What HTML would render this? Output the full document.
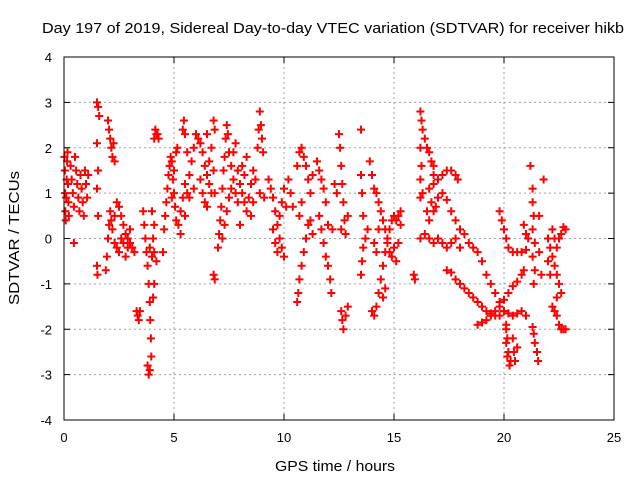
<!DOCTYPE html>
<html><head><meta charset="utf-8"><style>
body{margin:0;background:#fff;}
svg text{font-family:"Liberation Sans",sans-serif;fill:#000;}
</style></head><body>
<svg id="chart" width="640" height="480" xmlns="http://www.w3.org/2000/svg">
<rect width="640" height="480" fill="#fff"/>
<text x="42" y="33" font-size="15" textLength="582" lengthAdjust="spacingAndGlyphs">Day 197 of 2019, Sidereal Day-to-day VTEC variation (SDTVAR) for receiver hikb</text>
<g id="grid"></g>
<g id="ticks"></g>
<g id="marks"></g>
<rect x="64" y="57" width="550" height="363" fill="none" stroke="#000" stroke-width="1"/>
<text x="335" y="471" font-size="15" text-anchor="middle" textLength="120" lengthAdjust="spacingAndGlyphs">GPS time / hours</text>
<text x="0" y="0" font-size="15" text-anchor="middle" textLength="134" lengthAdjust="spacingAndGlyphs" transform="translate(19,238) rotate(-90)">SDTVAR / TECUs</text>
</svg>
<script>
const xTicks=[0,5,10,15,20,25];
const yTicks=[-4,-3,-2,-1,0,1,2,3,4];
const track1=[[0.02,1.8],[0.04,1.5],[0.05,1.0],[0.06,0.6],[0.08,0.4],[0.1,0.9],[0.12,1.3],[0.14,1.7],[0.16,1.9],[0.18,1.2],[0.2,0.8],[0.22,0.5]];
const track2=[[0.3,1.6],[0.35,1.3],[0.4,1.0],[0.45,0.7],[0.5,1.8],[0.55,1.5],[0.6,1.2],[0.65,0.9],[0.7,0.6],[0.75,1.4],[0.8,1.1],[0.85,0.8],[0.9,0.5],[0.95,1.5],[1.0,1.2],[1.05,0.9],[1.1,1.4],[0.45,-0.1]];
const track3=[[1.5,3.0],[1.55,2.9],[1.6,2.7],[1.5,2.1],[1.55,1.5],[1.5,1.1],[1.55,0.5],[1.5,-0.6],[1.52,-0.8]];
const track4=[[2.0,2.6],[2.05,2.4],[2.1,2.2],[2.15,2.0],[2.2,1.8],[2.25,2.1],[2.3,1.7]];
const track5=[[1.9,-0.7],[1.95,-0.4],[2.0,0.0],[2.05,0.3],[2.1,0.6],[2.15,0.4],[2.2,0.2],[2.3,0.5],[2.4,0.8],[2.5,0.7],[2.6,0.5],[2.7,0.3],[2.8,0.1],[2.9,0.0],[3.0,-0.1],[3.1,-0.2],[3.2,-0.3],[2.3,-0.1],[2.4,-0.2],[2.5,-0.3],[2.6,0.0],[2.7,-0.1],[2.8,-0.4],[2.9,-0.2],[3.0,0.2]];
const track6=[[3.3,-1.6],[3.35,-1.7],[3.4,-1.8],[3.45,-1.6]];
const track7=[[3.6,0.6],[3.65,0.3],[3.7,0.0],[3.75,-0.3],[3.8,-0.6],[3.85,-1.0],[3.9,-1.4],[3.92,-1.8],[3.95,-2.2],[3.97,-2.6],[3.8,-2.8],[3.85,-3.0],[3.9,-2.9],[3.9,-0.2],[4.0,-0.4],[4.05,0.0],[4.1,0.3],[4.0,0.6],[4.1,-0.3],[4.2,-0.5],[4.1,-1.0],[4.05,-1.3]];
const track8=[[4.1,2.2],[4.15,2.4],[4.2,2.3],[4.25,2.3],[4.3,2.2]];
const track9=[[4.5,-0.3],[4.55,0.2],[4.6,0.5],[4.65,0.8],[4.7,1.1],[4.75,1.4],[4.8,1.6],[4.85,1.8],[4.9,1.7],[4.95,1.3],[5.0,1.0],[5.05,0.7],[5.1,0.4],[4.9,0.9],[5.0,1.5],[5.1,1.9],[5.15,2.0]];
const track10=[[5.2,0.3],[5.3,0.6],[5.4,0.9],[5.5,1.2],[5.6,1.0],[5.7,1.4],[5.8,1.7],[5.9,2.0],[6.0,2.3],[5.4,2.4],[5.45,2.6],[5.5,2.3],[5.6,1.9],[5.3,0.1],[5.5,0.5],[5.7,0.9],[5.9,1.1]];
const track11=[[6.1,2.2],[6.2,2.1],[6.3,1.9],[6.4,1.6],[6.5,1.4],[6.6,1.2],[6.7,1.0],[6.2,1.3],[6.3,1.0],[6.4,0.8],[6.5,0.7],[6.6,1.7],[6.7,2.0],[6.5,2.3]];
const track12=[[6.8,2.6],[6.85,2.4],[6.8,1.5],[6.85,1.0],[6.8,-0.8],[6.85,-0.9]];
const track13=[[7.0,-0.2],[7.05,0.1],[7.1,0.4],[7.15,0.7],[7.2,1.1],[7.25,1.5],[7.3,1.8],[7.35,2.2],[7.4,2.5],[7.45,2.3],[7.5,1.9],[7.6,1.6],[7.7,1.3],[7.8,1.0],[7.9,0.8],[7.2,0.0],[7.3,0.3],[7.4,0.6],[7.5,0.9],[7.6,1.1],[7.7,1.9],[7.8,2.1],[7.9,1.5]];
const track14=[[8.0,1.2],[8.1,1.0],[8.2,0.8],[8.3,0.6],[8.4,0.9],[8.5,1.2],[8.6,1.5],[8.7,1.3],[8.8,2.0],[8.85,2.4],[8.9,2.8],[8.95,2.5],[9.0,2.2],[9.05,1.9],[8.1,1.6],[8.2,1.4],[8.3,1.8],[8.0,0.3],[8.5,0.5],[8.6,0.8],[8.9,1.0],[9.1,0.9]];
const track15=[[9.3,1.3],[9.4,1.1],[9.5,0.9],[9.6,0.6],[9.7,0.3],[9.8,0.0],[9.9,-0.2],[10.0,-0.4],[9.5,0.2],[9.6,-0.1],[9.7,-0.3],[9.8,0.5],[9.9,0.8],[10.0,1.1],[10.1,0.7],[10.2,1.3],[10.3,1.0],[10.4,0.7]];
const track16=[[10.6,1.6],[10.7,1.9],[10.8,2.0],[10.9,1.8],[11.0,1.6],[11.1,1.3],[11.2,1.0],[11.3,1.4],[10.6,-1.4],[10.65,-1.2],[10.7,-0.9],[10.8,-0.6],[10.9,-0.3],[11.0,0.0],[11.1,0.3],[10.7,0.5],[10.8,0.8],[11.2,0.4],[11.3,0.1]];
const track17=[[11.5,1.7],[11.6,1.5],[11.7,1.3],[11.8,1.1],[11.6,0.5],[11.7,0.2],[11.8,-0.1],[11.9,-0.4],[12.0,-0.6],[12.1,-0.9],[12.15,-1.2],[12.0,0.3],[12.2,0.2],[11.9,0.8],[12.3,1.2],[12.4,1.0]];
const track18=[[12.5,2.3],[12.55,2.0],[12.6,1.6],[12.65,1.2],[12.7,0.8],[12.75,0.4],[12.6,0.2],[12.8,0.1],[12.6,-1.6],[12.65,-1.8],[12.7,-2.0],[12.8,-1.7],[12.9,-1.5],[12.9,0.5]];
const track19=[[13.5,2.4],[13.5,1.4],[13.55,1.0],[13.6,0.5],[13.5,-0.8],[13.55,-0.5],[13.6,-0.2],[13.7,0.0],[13.8,0.2],[13.9,1.7],[14.0,1.4],[14.1,1.1]];
const track20=[[14.0,-1.6],[14.1,-1.7],[14.2,-1.5],[14.3,-1.2],[14.4,-0.9],[14.5,-0.6],[14.6,-0.3],[14.7,0.0],[14.8,0.2],[14.9,0.4],[15.0,0.5],[15.1,0.4],[15.2,0.5],[15.3,0.6],[14.2,1.0],[14.3,0.8],[14.4,0.6],[14.5,0.4],[14.6,0.2],[14.7,-0.1],[14.8,-0.3],[14.9,-0.4],[15.0,-0.2],[15.1,-0.5],[14.1,-0.1],[14.2,-0.3],[14.3,0.2],[14.5,-1.3],[14.6,-1.1],[15.2,-0.1],[15.3,0.3]];
const track21=[[15.9,-0.8],[15.95,-0.9]];
const track22=[[16.2,2.8],[16.25,2.6],[16.3,2.4],[16.4,2.2],[16.5,2.0],[16.6,1.9],[16.7,1.7],[16.8,1.6],[16.8,1.4],[16.2,2.0],[16.25,1.6],[16.2,1.3],[16.3,1.0],[16.2,0.9]];
const track23=[[16.6,1.1],[16.8,1.2],[17.0,1.3],[17.2,1.4],[17.4,1.5],[17.6,1.5],[17.8,1.4],[17.9,1.3],[16.5,0.6],[16.6,0.4],[16.7,0.8],[16.8,0.6]];
const track24=[[17.2,1.0],[17.4,0.85],[17.6,0.6],[17.8,0.4],[18.0,0.2],[18.2,0.1],[18.4,-0.1],[18.6,-0.2],[18.8,-0.3],[19.0,-0.5],[19.2,-0.8],[19.4,-1.0],[19.6,-1.2],[19.8,-1.4],[20.0,-1.6],[20.1,-1.9],[20.15,-2.2],[20.2,-2.5],[20.25,-2.8],[20.3,-2.7],[17.0,0.9],[16.9,0.7]];
const track25=[[16.2,0.0],[16.4,0.1],[16.6,0.0],[16.8,-0.1],[17.0,0.0],[17.2,-0.1],[17.4,-0.2],[17.6,-0.1],[17.8,0.0],[18.0,-0.2]];
const track26=[[17.4,-0.7],[17.6,-0.75],[17.8,-0.9],[18.0,-1.0],[18.2,-1.1],[18.4,-1.2],[18.6,-1.3],[18.8,-1.4],[19.0,-1.5],[19.2,-1.6],[19.4,-1.65],[19.6,-1.7],[19.8,-1.7],[20.0,-1.6],[20.2,-1.65],[20.4,-1.7],[20.6,-1.65],[20.8,-1.6],[21.0,-1.7]];
const track27=[[18.8,-1.9],[19.0,-1.85],[19.2,-1.8],[19.4,-1.7],[19.6,-1.6],[19.8,-1.5],[20.0,-1.35],[20.2,-1.2],[20.4,-1.05],[20.6,-0.95],[20.8,-0.8],[20.9,-0.7]];
const track28=[[19.8,0.6],[19.9,0.4],[20.0,0.2],[20.1,0.0],[20.2,-0.2],[20.4,-0.3],[20.6,-0.3],[20.8,-0.3],[21.0,-0.25]];
const track29=[[20.1,-2.0],[20.1,-2.3],[20.15,-2.6],[20.4,-2.2],[20.45,-2.5],[20.5,-2.7],[20.6,-2.4]];
const track30=[[21.2,1.6],[21.8,1.3],[21.3,1.1],[21.3,0.8],[21.35,0.5],[21.3,0.2],[21.4,-0.1],[21.3,-0.4],[21.4,-0.7],[21.35,-1.0],[21.6,0.5],[21.6,-0.3],[21.7,-0.8],[20.9,0.3],[21.0,0.1],[21.1,0.0]];
const track31=[[21.3,-1.95],[21.35,-2.1],[21.4,-2.3],[21.5,-2.5],[21.55,-2.7]];
const track32=[[22.0,0.0],[22.1,-0.2],[22.2,-0.4],[22.3,-0.6],[22.4,-0.8],[22.5,-1.0],[22.6,-1.2],[22.2,0.2],[22.3,0.0],[22.4,-0.2],[22.5,0.0],[22.6,0.1],[22.7,0.25],[22.8,0.2],[22.0,-0.5],[22.1,-0.8]];
const track33=[[22.2,-1.5],[22.3,-1.6],[22.4,-1.7],[22.5,-1.9],[22.6,-2.0],[22.7,-2.0],[22.8,-2.0],[22.4,-1.3]];
const tracks=[track1,track2,track3,track4,track5,track6,track7,track8,track9,track10,track11,track12,track13,track14,track15,track16,track17,track18,track19,track20,track21,track22,track23,track24,track25,track26,track27,track28,track29,track30,track31,track32,track33];

const NS='http://www.w3.org/2000/svg';
const X0=64,X1=614,Y0=420,Y1=57;
function xs(t){return X0+(t-0)/(25-0)*(X1-X0);}
function ys(v){return Y0-(v+4)/8*(Y0-Y1);}
const grid=document.getElementById('grid'),ticks=document.getElementById('ticks'),marks=document.getElementById('marks');
function mk(tag,attrs,parent){const e=document.createElementNS(NS,tag);for(const k in attrs)e.setAttribute(k,attrs[k]);parent.appendChild(e);return e;}
xTicks.forEach(t=>{
  const x=xs(t);
  if(t>0&&t<25){const g=mk('line',{x1:x,y1:Y1,x2:x,y2:Y0,stroke:'#a0a0a0','stroke-dasharray':'2,3'},grid);
  
  }
  mk('line',{x1:x,y1:Y0,x2:x,y2:Y0-6,stroke:'#000'},ticks);
  mk('line',{x1:x,y1:Y1,x2:x,y2:Y1+6,stroke:'#000'},ticks);
  const l=mk('text',{x:x,y:Y0+22,'font-size':13,'text-anchor':'middle'},ticks);
  l.textContent=t;
  
  
});
yTicks.forEach(v=>{
  const y=ys(v);
  if(v>-4&&v<4){const g=mk('line',{x1:X0,y1:y,x2:X1,y2:y,stroke:'#a0a0a0','stroke-dasharray':'2,3'},grid);
  
  }
  mk('line',{x1:X0,y1:y,x2:X0+6,y2:y,stroke:'#000'},ticks);
  mk('line',{x1:X1,y1:y,x2:X1-6,y2:y,stroke:'#000'},ticks);
  const l=mk('text',{x:X0-12,y:y+5,'font-size':13,'text-anchor':'end'},ticks);
  l.textContent=v;
  
  
});
tracks.forEach(tr=>tr.forEach(p=>{
  const x=xs(p[0]),y=ys(p[1]);
  const m=mk('path',{d:`M${x-4},${y}h8M${x},${y-4}v8`,stroke:'#ff0000','stroke-width':2,fill:'none'},marks);
  
  
}));
</script>
</body></html>
